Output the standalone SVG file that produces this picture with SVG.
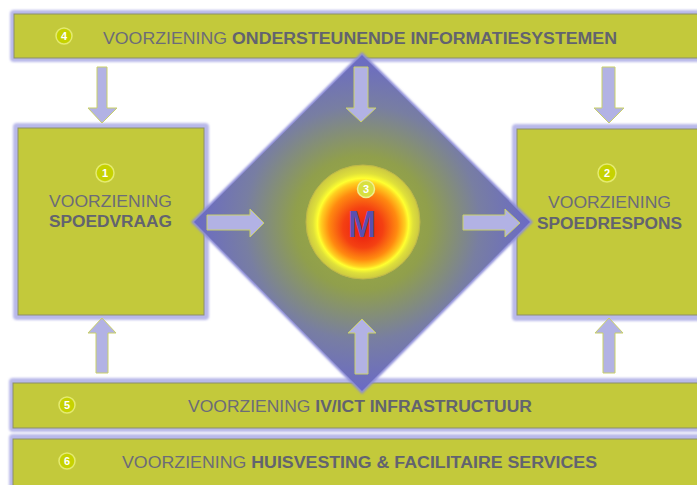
<svg xmlns="http://www.w3.org/2000/svg" width="697" height="485" viewBox="0 0 697 485">
<defs>
<radialGradient id="dg" cx="50%" cy="50%" r="50%">
<stop offset="0" stop-color="#a2b238"/>
<stop offset="0.4" stop-color="#909f4c"/>
<stop offset="0.7" stop-color="#787ea2"/>
<stop offset="1" stop-color="#6a6ac6"/>
</radialGradient>
<radialGradient id="cg" cx="50%" cy="50%" r="50%" fx="50%" fy="58%">
<stop offset="0" stop-color="#e81a10"/>
<stop offset="0.35" stop-color="#f44012"/>
<stop offset="0.6" stop-color="#ff8a10"/>
<stop offset="0.74" stop-color="#ffd020"/>
<stop offset="0.8" stop-color="#ffff30"/>
<stop offset="0.88" stop-color="#dfe03a"/>
<stop offset="1" stop-color="#cbc842"/>
</radialGradient>
<filter id="glow" x="-10%" y="-10%" width="120%" height="120%">
<feGaussianBlur stdDeviation="1.2"/>
</filter>
</defs>
<style>
.halo{fill:#b9b9ea;filter:url(#glow)}
.box{fill:#c3c93b;stroke:#8c8f6a;stroke-width:1}
.t{font-family:"Liberation Sans",Arial,sans-serif;font-size:16px;fill:#6c6c78}
.b{font-weight:bold;fill:#62636f}
.nc{fill:#c6d200;stroke:#e4ea70;stroke-width:1.5}
.nt{font-family:"Liberation Sans",Arial,sans-serif;font-size:11px;font-weight:bold;fill:#ffffff;text-anchor:middle}
.arr{fill:#b2b2e4;stroke:#c9d068;stroke-width:1}
</style>
<rect width="697" height="485" fill="#ffffff"/>

<g id="bar4">
<rect class="halo" x="10" y="10" width="700" height="52" rx="4"/>
<rect class="box" x="14" y="14" width="700" height="44"/>
<circle class="nc" cx="64" cy="36" r="8"/>
<text class="nt" x="64" y="40">4</text>
<text class="t" x="103" y="44" textLength="514" lengthAdjust="spacingAndGlyphs">VOORZIENING <tspan class="b">ONDERSTEUNENDE  INFORMATIESYSTEMEN</tspan></text>
</g>

<g id="box1">
<rect class="halo" x="13" y="123" width="196" height="197" rx="4"/>
<rect class="box" x="18" y="128" width="186" height="187"/>
<circle class="nc" cx="105" cy="173" r="9"/>
<text class="nt" x="105" y="177">1</text>
<text class="t" x="49" y="207" textLength="123" lengthAdjust="spacingAndGlyphs">VOORZIENING</text>
<text class="t b" x="49" y="227" textLength="123" lengthAdjust="spacingAndGlyphs">SPOEDVRAAG</text>
</g>

<g id="box2">
<rect class="halo" x="512" y="124" width="200" height="197" rx="4"/>
<rect class="box" x="517" y="129" width="200" height="186"/>
<circle class="nc" cx="607" cy="173" r="9"/>
<text class="nt" x="607" y="177">2</text>
<text class="t" x="548" y="208" textLength="123" lengthAdjust="spacingAndGlyphs">VOORZIENING</text>
<text class="t b" x="537" y="229" textLength="145" lengthAdjust="spacingAndGlyphs">SPOEDRESPONS</text>
</g>

<g id="bar5">
<rect class="halo" x="9" y="378" width="700" height="54" rx="4"/>
<rect class="box" x="13" y="383" width="700" height="45"/>
<circle class="nc" cx="67" cy="405" r="8"/>
<text class="nt" x="67" y="409">5</text>
<text class="t" x="188" y="412" textLength="344" lengthAdjust="spacingAndGlyphs">VOORZIENING <tspan class="b">IV/ICT INFRASTRUCTUUR</tspan></text>
</g>

<g id="bar6">
<rect class="halo" x="9" y="434" width="700" height="56" rx="4"/>
<rect class="box" x="13" y="439" width="700" height="50"/>
<circle class="nc" cx="67" cy="461" r="8"/>
<text class="nt" x="67" y="465">6</text>
<text class="t" x="122" y="468" textLength="475" lengthAdjust="spacingAndGlyphs">VOORZIENING <tspan class="b">HUISVESTING &amp; FACILITAIRE SERVICES</tspan></text>
</g>

<g id="center3">
<polygon points="362,52 533,222 362,394 191,222" fill="#8c8cd8" filter="url(#glow)"/>
<polygon points="362,55 530,222 362,391 194,222" fill="url(#dg)"/>
<circle cx="363" cy="222" r="57" fill="url(#cg)" stroke="#bfb84a" stroke-width="1"/>
<circle cx="366" cy="189" r="8.5" fill="#d8e040" stroke="#eef090" stroke-width="1.5"/>
<text class="nt" x="366" y="193">3</text>
<text x="362" y="237" text-anchor="middle" font-family="'Liberation Sans',Arial,sans-serif" font-size="36" font-weight="bold" fill="#5a4fb0" textLength="28" lengthAdjust="spacingAndGlyphs">M</text>
</g>

<g id="connectors">
<path class="arr" d="M97,67 H107 V108 H117 L102,123 L88,108 H97 Z"/>
<path class="arr" d="M602,67 H615 V108 H624 L609,123 L594,108 H602 Z"/>
<path class="arr" d="M102,318 L116,333 H108 V373 H96 V333 H88 Z"/>
<path class="arr" d="M609,318 L623,333 H615 V373 H603 V333 H595 Z"/>
<path class="arr" d="M354,67 H368 V108 H376 L361,122 L346,108 H354 Z"/>
<path class="arr" d="M362,319 L376,333 H368 V374 H355 V333 H348 Z"/>
<path class="arr" d="M207,215 H250 V209 L264,223 L250,237 V230 H207 Z"/>
<path class="arr" d="M463,215 H505 V209 L520,223 L505,237 V230 H463 Z"/>
</g>
</svg>
